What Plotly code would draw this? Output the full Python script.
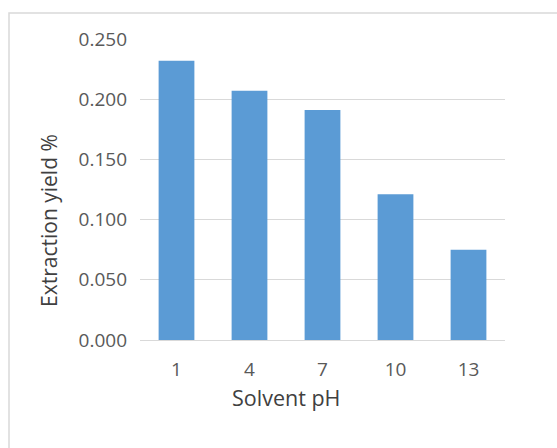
import plotly.graph_objects as go

# Extraction yield by solvent pH
solvent_ph = ["1", "4", "7", "10", "13"]
extraction_yield = [0.232, 0.207, 0.191, 0.121, 0.075]
y_ticks = [0.0, 0.05, 0.10, 0.15, 0.20, 0.25]
y_tick_labels = ["0.000", "0.050", "0.100", "0.150", "0.200", "0.250"]
x_title = "Solvent pH"
y_title = "Extraction yield %"

W, H = 557, 448
L, R, T, B = 140, 52, 39, 108

fig = go.Figure(
    go.Bar(
        x=solvent_ph,
        y=extraction_yield,
        marker=dict(color="#5b9bd5", line=dict(width=0)),
        width=0.49,
    )
)

plot_w = W - L - R
plot_h = H - T - B


def px_x(px):
    return (px - L) / plot_w


def px_y(py):
    return (H - B - py) / plot_h


# light outer chart border
fig.add_shape(
    type="rect",
    xref="paper", yref="paper",
    x0=px_x(9), x1=px_x(W + 20),
    y0=px_y(H + 20), y1=px_y(13),
    line=dict(color="#d9d9d9", width=1.5),
    fillcolor="rgba(0,0,0,0)",
    layer="below",
)

font_family = "Open Sans, Liberation Sans, sans-serif"
tick_size = 19
title_size = 21.5
title_color = "#404040"

# axis titles centred on the chart area
fig.add_annotation(
    text=x_title, xref="paper", yref="paper",
    x=px_x(286), y=px_y(397), xanchor="center", yanchor="middle",
    showarrow=False, font=dict(size=title_size, color=title_color),
)
fig.add_annotation(
    text=y_title, xref="paper", yref="paper",
    x=px_x(49), y=px_y(221), xanchor="center", yanchor="middle",
    textangle=-90,
    showarrow=False, font=dict(size=title_size - 0.5, color=title_color),
)

fig.update_layout(
    width=W, height=H,
    margin=dict(l=L, r=R, t=T, b=B),
    paper_bgcolor="white",
    plot_bgcolor="white",
    showlegend=False,
    font=dict(family=font_family, color="#595959", size=tick_size),
    xaxis=dict(
        showgrid=False,
        showline=True,
        linecolor="#d9d9d9",
        linewidth=1,
        ticks="",
        ticklabelstandoff=12,
        tickfont=dict(size=tick_size, color="#595959"),
        range=[-0.5, 4.5],
    ),
    yaxis=dict(
        range=[0, 0.25],
        tickvals=y_ticks,
        ticktext=y_tick_labels,
        showgrid=True,
        gridcolor="#d9d9d9",
        gridwidth=1,
        zeroline=False,
        showline=False,
        ticks="",
        ticklabelstandoff=12,
        tickfont=dict(size=tick_size, color="#595959"),
    ),
)

fig.write_html("out.html")
